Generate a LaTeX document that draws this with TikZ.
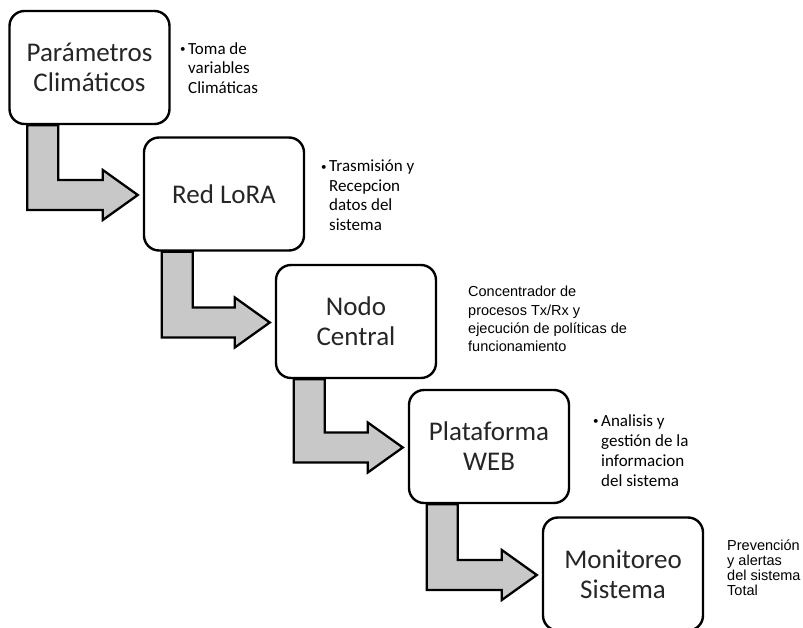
\documentclass[tikz,border=0pt]{standalone}
\usepackage{fontspec}
\setmainfont{Carlito}
\newfontfamily\arialfont{Liberation Sans}
\usetikzlibrary{calc}
\definecolor{grisflecha}{RGB}{200,200,200}
\newcommand{\vineta}{\llap{\raisebox{1.8pt}{\fontsize{11}{11}\selectfont\textbullet}\hspace{2.5pt}}}
\tikzset{
  caja/.style={draw, line width=2.4pt, rounded corners=15pt, fill=white,
    minimum width=160pt, minimum height=113pt, align=center,
    text=black!85, font=\fontsize{27}{30}\selectfont},
  nota/.style={anchor=north west, inner sep=0pt, align=left,
    font=\fontsize{17}{19.5}\selectfont},
  notaarial/.style={anchor=north west, inner sep=0pt, align=left,
    font=\arialfont\fontsize{14.5}{18.3}\selectfont},
  flechagris/.style={draw, fill=grisflecha, line width=2.3pt, line join=miter}
}
% flecha doblada: baja desde #1 y entra por la izquierda de #2
\newcommand{\flecha}[2]{%
  \draw[flechagris] let \p1=($(#1.south west)+(19,0)$), \p2=($(#2.west)+(-5,1)$) in
    (\x1,\y1) -- (\x1,\y2-15pt) -- (\x2-35pt,\y2-15pt) -- (\x2-35pt,\y2-25pt)
    -- (\x2,\y2) -- (\x2-35pt,\y2+25pt) -- (\x2-35pt,\y2+15pt)
    -- (\x1+31pt,\y2+15pt) -- (\x1+31pt,\y1) -- cycle;}

\begin{document}
\begin{tikzpicture}[x=1pt, y=-1pt]
  \useasboundingbox (0,0) rectangle (803,628);
  % etapas
  \node[caja] (clima) at (89.5,67.5) {Parámetros\\Climáticos};
  \node[caja] (lora) at (224,194) {Red LoRA};
  \node[caja] (nodo) at (356,321.5) {Nodo\\Central};
  \node[caja] (web) at (489,446.5) {Plataforma\\WEB};
  \node[caja] (monitoreo) at (623,574) {Monitoreo\\Sistema};
  % flechas
  \flecha{clima}{lora}
  \flecha{lora}{nodo}
  \flecha{nodo}{web}
  \flecha{web}{monitoreo}
  % notas
  \node[nota] (nclima) at (188,42) {\vineta Toma de\\variables\\Climáticas};
  \node[nota] (nlora) at (329,160) {\vineta Trasmisión y\\Recepcion\\datos del\\sistema};
  \node[notaarial] (nnodo) at (468,286) {Concentrador de\\procesos Tx/Rx y\\ejecución de políticas de\\funcionamiento};
  \node[nota, font=\fontsize{17}{20}\selectfont] (nweb) at (601,414) {\vineta Analisis y\\gestión de la\\informacion\\del sistema};
  \node[notaarial, font=\arialfont\fontsize{14.5}{15}\selectfont] (nmonitoreo) at (727,540) {Prevención\\y alertas\\del sistema\\Total};
\end{tikzpicture}
\end{document}
